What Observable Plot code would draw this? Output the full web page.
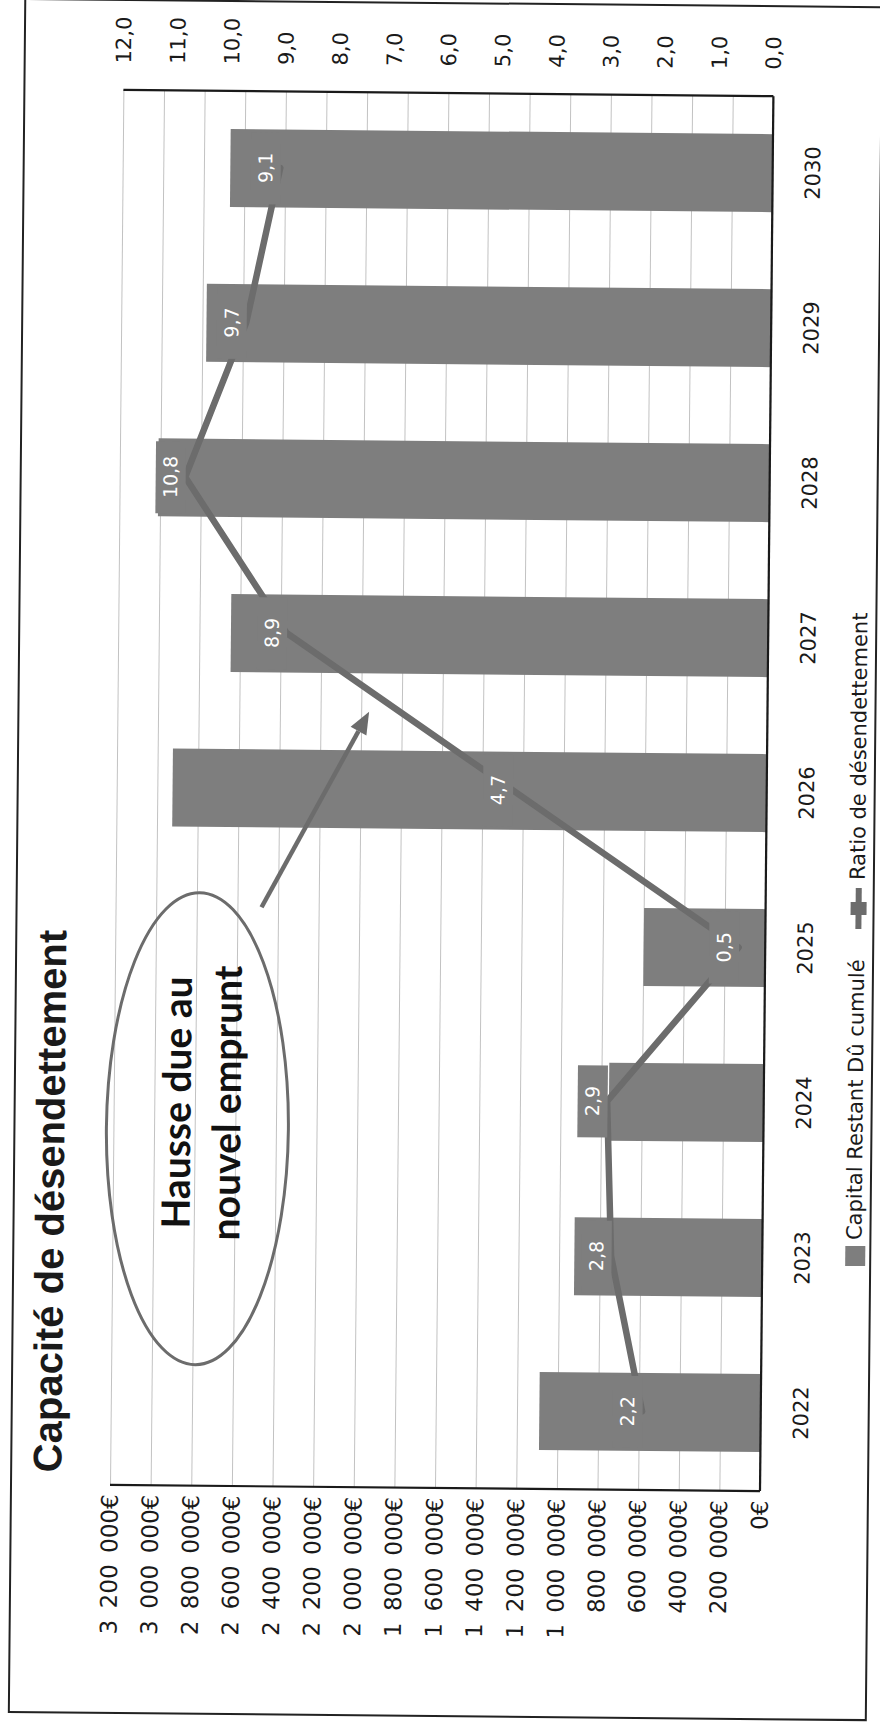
<!DOCTYPE html>
<html lang="fr">
<head>
<meta charset="utf-8">
<script src="https://cdn.jsdelivr.net/npm/d3@7"></script>
<script src="https://cdn.jsdelivr.net/npm/@observablehq/plot@0.6"></script>
<style>
  html, body { margin: 0; padding: 0; background: #fff; overflow: hidden; }
  /* printed page, slightly tilted */
  #page { position: relative; width: 880px; height: 1726px; transform: rotate(0.55deg); transform-origin: 440px 863px; }
  /* the chart sheet is laid out landscape and turned a quarter turn */
  #sheet { position: absolute; left: 0; top: 0; width: 1726px; height: 880px; transform-origin: 0 0;
           transform: translate(0, 1726px) rotate(-90deg); font-family: "DejaVu Sans", sans-serif; color: #1a1a1a; }
  #frame { position: absolute; left: 9px; top: 16px; width: 1715px; height: 859px; border: 2px solid #222; box-sizing: border-box; }
  #title { position: absolute; left: 250px; top: 31px; font: bold 40px "Liberation Sans", Arial, sans-serif; line-height: 44px; white-space: nowrap; }
  #chart { position: absolute; left: 0; top: 90px; }
  .lg { position: absolute; font-size: 21px; line-height: 24px; white-space: nowrap; }
  .sw { position: absolute; }
</style>
</head>
<body>
<div id="page">
  <div id="sheet">
    <div id="frame"></div>
    <div id="title"></div>
    <div id="chart"></div>
    <div id="legend"></div>
  </div>
</div>
<script>
// Years on the category axis
const years = ["2022", "2023", "2024", "2025", "2026", "2027", "2028", "2029", "2030"];
// Capital restant dû cumulé (€)
const capital = [1090000, 925000, 762000, 598000, 2925000, 2645000, 3010000, 2780000, 2670000];
// Ratio de désendettement (années)
const ratio = [2.2, 2.8, 2.9, 0.5, 4.7, 8.9, 10.8, 9.7, 9.1];
// Axis ticks
const euroTicks = d3.range(0, 3200001, 200000);
const ratioTicks = d3.range(0, 13, 1);

const titleText = "Capacité de désendettement";
const seriesNames = ["Capital Restant Dû cumulé", "Ratio de désendettement"];
const noteLines = ["Hausse due au", "nouvel emprunt"];

const barColor = "#7e7e7e";
const lineColor = "#6c6c6c";

const fr = d3.formatLocale({decimal: ",", thousands: "\u2002", grouping: [3], currency: ["", "€"]});
const euroFmt = v => fr.format(",.0f")(v) + "€";
const oneDec = fr.format(".1f");

// the ratio is drawn against the € scale: 12,0 sits at 3 200 000€
const k = 3200000 / 12;
const rows = years.map((year, i) => ({year, capital: capital[i], ratio: ratio[i]}));

document.getElementById("title").textContent = titleText;

const W = 1726, H = 740;
const mL = 238, mR = 93, mT = 26, mB = 64;

// plot frame lines (left, right, baseline)
function frameLines(index, scales, values, dims) {
  const g = d3.create("svg:g").attr("stroke", "#1a1a1a").attr("stroke-width", 2.2);
  const x0 = dims.marginLeft, x1 = dims.width - dims.marginRight;
  const y0 = dims.marginTop, y1 = dims.height - dims.marginBottom;
  g.append("line").attr("x1", x0).attr("x2", x0).attr("y1", y0).attr("y2", y1);
  g.append("line").attr("x1", x1).attr("x2", x1).attr("y1", y0).attr("y2", y1);
  g.append("line").attr("x1", x0).attr("x2", x1).attr("y1", y1).attr("y2", y1);
  return g.node();
}

// callout: ellipse with text and an arrow toward the 2026–2027 rise
function callout(index, scales, values, dims) {
  const x = scales.x, y = scales.y;
  const half = x.bandwidth() / 2, step = x.step();
  const cx = x("2023") + half + 0.8 * step;
  const cy = y(10.45 * k);
  const tipX = (x("2026") + x("2027")) / 2 + half;
  const tipY = (y(4.7 * k) + y(8.9 * k)) / 2 - 30;
  const tailX = cx + 222, tailY = cy + 62;
  const g = d3.create("svg:g");
  g.append("ellipse").attr("cx", cx).attr("cy", cy).attr("rx", 236).attr("ry", 91)
    .attr("fill", "none").attr("stroke", lineColor).attr("stroke-width", 3);
  const t = g.append("text").attr("text-anchor", "middle").attr("fill", "#111")
    .attr("font-family", "Lato, 'Open Sans', sans-serif").attr("font-weight", 700).attr("font-size", 39);
  noteLines.forEach((s, i) => t.append("tspan").attr("x", cx + 26).attr("y", cy - 7 + i * 50).text(s));
  const a = Math.atan2(tipY - tailY, tipX - tailX);
  const hl = 22, hw = 9;
  const bx = tipX - hl * Math.cos(a), by = tipY - hl * Math.sin(a);
  g.append("line").attr("x1", tailX).attr("y1", tailY).attr("x2", bx).attr("y2", by)
    .attr("stroke", lineColor).attr("stroke-width", 4.5);
  g.append("path").attr("fill", lineColor)
    .attr("d", `M${tipX},${tipY}L${bx + hw * Math.sin(a)},${by - hw * Math.cos(a)}L${bx - hw * Math.sin(a)},${by + hw * Math.cos(a)}Z`);
  return g.node();
}

const chart = Plot.plot({
  width: W, height: H,
  marginLeft: mL, marginRight: mR, marginTop: mT, marginBottom: mB,
  style: {fontFamily: "DejaVu Sans, sans-serif", fontSize: "21px", color: "#1a1a1a", background: "transparent"},
  x: {domain: years, paddingInner: 0.5, paddingOuter: 0.25, label: null},
  y: {domain: [0, 3200000], label: null},
  marks: [
    Plot.gridY(euroTicks, {stroke: "#c2c2c2", strokeOpacity: 1, strokeWidth: 1}),
    Plot.barY(rows, {x: "year", y: "capital", fill: barColor}),
    Plot.line(rows, {x: "year", y: d => d.ratio * k, stroke: lineColor, strokeWidth: 6.5}),
    // label plates behind the values
    Plot.barY(rows, {x: "year", y1: d => d.ratio * k, y2: d => d.ratio * k,
      insetTop: -29, insetBottom: -1, insetLeft: 3, insetRight: 3, fill: barColor}),
    Plot.text(rows, {x: "year", y: d => d.ratio * k, dy: -14, text: d => oneDec(d.ratio),
      fill: "#fff", fontSize: 19}),
    Plot.axisY(euroTicks, {anchor: "left", tickSize: 0, tickPadding: 10, tickFormat: euroFmt,
      fontSize: 23, label: null, letterSpacing: 0.9}),
    Plot.axisY(ratioTicks.map(r => r * k), {anchor: "right", tickSize: 0, tickPadding: 26,
      tickFormat: d => oneDec(d / k), fontSize: 21, label: null}),
    Plot.axisX({tickSize: 0, tickPadding: 32, fontSize: 21, label: null}),
    frameLines,
    callout
  ]
});
document.getElementById("chart").append(chart);

// legend under the chart
const legend = document.getElementById("legend");
const lgY = 859;
legend.innerHTML = `
  <div class="sw" style="left:464px;top:${lgY - 10}px;width:20px;height:20px;background:${barColor}"></div>
  <div class="lg" style="left:490px;top:${lgY - 13}px">${seriesNames[0]}</div>
  <div class="sw" style="left:801px;top:${lgY - 3}px;width:41px;height:6px;background:${lineColor}"></div>
  <div class="sw" style="left:815px;top:${lgY - 8}px;width:13px;height:16px;background:${lineColor}"></div>
  <div class="lg" style="left:850px;top:${lgY - 13}px">${seriesNames[1]}</div>`;
</script>
</body>
</html>
